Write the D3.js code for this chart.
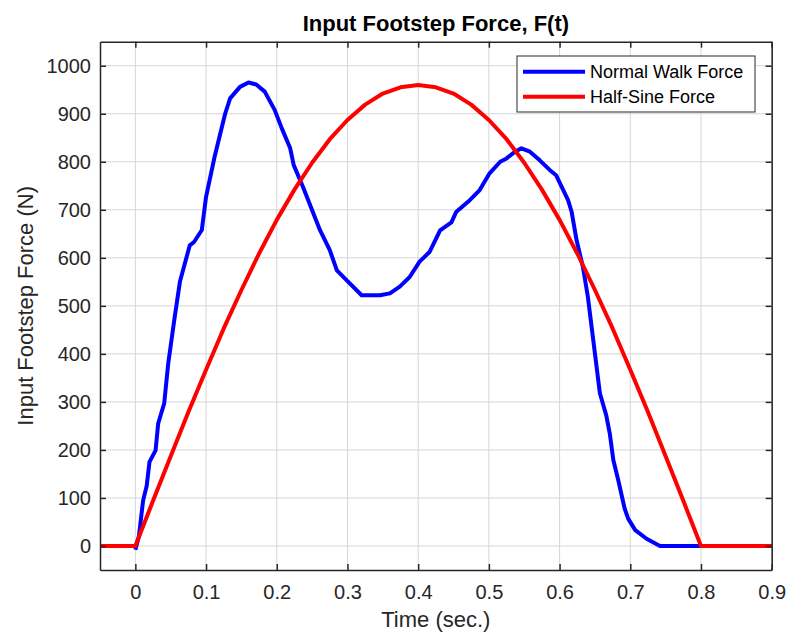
<!DOCTYPE html>
<html lang="en">
<head>
<meta charset="UTF-8"/>
<title>Input Footstep Force</title>
<script src="https://d3js.org/d3.v7.js"></script>
<style>
  body { margin: 0; background: #fff; }
  text { font-family: "Liberation Sans", Arial, sans-serif; fill: #262626; }
</style>
</head>
<body>
<div id="chart"></div>
<script>
// data
const walkTime = [0, 0.005, 0.011, 0.016, 0.02, 0.0286, 0.0323, 0.0408, 0.0465, 0.055, 0.063, 0.07,
  0.077, 0.083, 0.094, 0.1, 0.112, 0.127, 0.134, 0.148, 0.16, 0.171, 0.183, 0.197, 0.207, 0.219, 0.224,
  0.237, 0.261, 0.275, 0.285, 0.299, 0.32, 0.346, 0.36, 0.374, 0.388, 0.402, 0.416, 0.431, 0.447, 0.454,
  0.473, 0.487, 0.501, 0.516, 0.525, 0.537, 0.546, 0.558, 0.572, 0.586, 0.595, 0.612, 0.617,
  0.624, 0.633, 0.64, 0.65, 0.657, 0.666, 0.671, 0.676, 0.683, 0.692, 0.697, 0.707, 0.723,
  0.742, 0.9];
const walkForce = [-8, 20, 95, 125, 175, 199, 255, 297, 380, 470, 550, 588,
  626, 633, 658, 727, 810, 900, 932, 956, 965, 961, 946, 908, 870, 828, 793,
  748, 658, 616, 574, 553, 522, 522, 526, 540, 560, 592, 612, 657, 674, 696,
  720, 741, 776, 800, 807, 821, 828, 821, 803, 783, 772, 720, 696,
  637, 581, 519, 401, 318, 272, 234, 179, 137, 78, 57, 33, 15,
  0, 0];

const sineTime = [-0.05, 0, 0.025, 0.05, 0.075, 0.1, 0.125, 0.15, 0.175, 0.2, 0.225, 0.25, 0.275, 0.3,
  0.325, 0.35, 0.375, 0.4, 0.425, 0.45, 0.475, 0.5, 0.525, 0.55, 0.575, 0.6, 0.625, 0.65, 0.675,
  0.7, 0.725, 0.75, 0.775, 0.8, 0.9];
const sineForce = [0, 0, 94, 187, 279, 367, 453, 533, 609, 679, 742, 798, 847, 887,
  919, 942, 955, 960, 955, 942, 919, 887, 847, 798, 742, 679, 609, 533, 453,
  367, 279, 187, 94, 0, 0];

const xTicks = [0, 0.1, 0.2, 0.3, 0.4, 0.5, 0.6, 0.7, 0.8, 0.9];
const yTicks = [0, 100, 200, 300, 400, 500, 600, 700, 800, 900, 1000];
const seriesNames = ["Normal Walk Force", "Half-Sine Force"];
const seriesColors = ["#0000ff", "#ff0000"];

const W = 787, H = 636;
const margin = {top: 41.7, right: 15.3, bottom: 66, left: 100};
const width = W - margin.left - margin.right,
      height = H - margin.top - margin.bottom;

const svg = d3.select("#chart")
  .append("svg")
    .attr("width", W)
    .attr("height", H)
  .append("g")
    .attr("transform", `translate(${margin.left},${margin.top})`);

const x = d3.scaleLinear().domain([-0.05, 0.9]).range([0, width]);
const y = d3.scaleLinear().domain([-50, 1050]).range([height, 0]);

// grid
svg.append("g")
  .selectAll("line")
  .data(xTicks)
  .join("line")
    .attr("x1", d => x(d)).attr("x2", d => x(d))
    .attr("y1", 0).attr("y2", height)
    .attr("stroke", "#d6d6d6").attr("stroke-width", 1);
svg.append("g")
  .selectAll("line")
  .data(yTicks)
  .join("line")
    .attr("x1", 0).attr("x2", width)
    .attr("y1", d => y(d)).attr("y2", d => y(d))
    .attr("stroke", "#d6d6d6").attr("stroke-width", 1);

// lines
const line = d3.line().x(d => x(d[0])).y(d => y(d[1]));
const walkData = walkTime.map((t, i) => [t, walkForce[i]]);
const sineData = sineTime.map((t, i) => [t, sineForce[i]]);

svg.append("path")
  .datum(walkData)
  .attr("d", line)
  .attr("fill", "none")
  .attr("stroke", seriesColors[0])
  .attr("stroke-width", 4)
  .attr("stroke-linejoin", "round");

svg.append("path")
  .datum(sineData)
  .attr("d", line)
  .attr("fill", "none")
  .attr("stroke", seriesColors[1])
  .attr("stroke-width", 4)
  .attr("stroke-linejoin", "round");

// axes, ticks pointing inward
function styleAxis(g) {
  g.selectAll("path").attr("stroke", "#262626").attr("stroke-width", 1.5);
  g.selectAll("line").attr("stroke", "#262626").attr("stroke-width", 1.5);
  g.selectAll("text").attr("fill", "#262626")
    .style("font-family", '"Liberation Sans", Arial, sans-serif')
    .style("font-size", "20px");
}

svg.append("g")
  .attr("transform", `translate(0,${height})`)
  .call(d3.axisBottom(x).tickValues(xTicks).tickFormat(d3.format("")).tickSizeInner(-6).tickSizeOuter(0).tickPadding(15))
  .call(styleAxis);
svg.append("g")
  .call(d3.axisTop(x).tickValues(xTicks).tickFormat("").tickSizeInner(-6).tickSizeOuter(0))
  .call(styleAxis);
svg.append("g")
  .call(d3.axisLeft(y).tickValues(yTicks).tickFormat(d3.format("")).tickSizeInner(-6).tickSizeOuter(0).tickPadding(9))
  .call(styleAxis);
svg.append("g")
  .attr("transform", `translate(${width},0)`)
  .call(d3.axisRight(y).tickValues(yTicks).tickFormat("").tickSizeInner(-6).tickSizeOuter(0))
  .call(styleAxis);

// labels
svg.append("text")
  .attr("x", width / 2)
  .attr("y", -11)
  .attr("text-anchor", "middle")
  .style("font-size", "22px")
  .style("font-weight", "bold")
  .style("fill", "#000")
  .text("Input Footstep Force, F(t)");

svg.append("text")
  .attr("x", width / 2)
  .attr("y", height + 57)
  .attr("text-anchor", "middle")
  .style("font-size", "22px")
  .text("Time (sec.)");

svg.append("text")
  .attr("transform", "rotate(-90)")
  .attr("x", -height / 2)
  .attr("y", 33 - margin.left)
  .attr("text-anchor", "middle")
  .style("font-size", "22px")
  .text("Input Footstep Force (N)");

// legend
const legend = svg.append("g")
  .attr("transform", `translate(${517 - margin.left},${56 - margin.top})`);
legend.append("rect")
  .attr("width", 238).attr("height", 56)
  .attr("fill", "#fff")
  .attr("stroke", "#262626").attr("stroke-width", 1);
seriesNames.forEach((name, i) => {
  const yy = 15.7 + i * 25;
  legend.append("line")
    .attr("x1", 6).attr("x2", 68)
    .attr("y1", yy).attr("y2", yy)
    .attr("stroke", seriesColors[i]).attr("stroke-width", 4);
  legend.append("text")
    .attr("x", 73).attr("y", yy)
    .attr("dy", "0.35em")
    .style("font-size", "18px")
    .style("fill", "#000")
    .text(name);
});
</script>
</body>
</html>
